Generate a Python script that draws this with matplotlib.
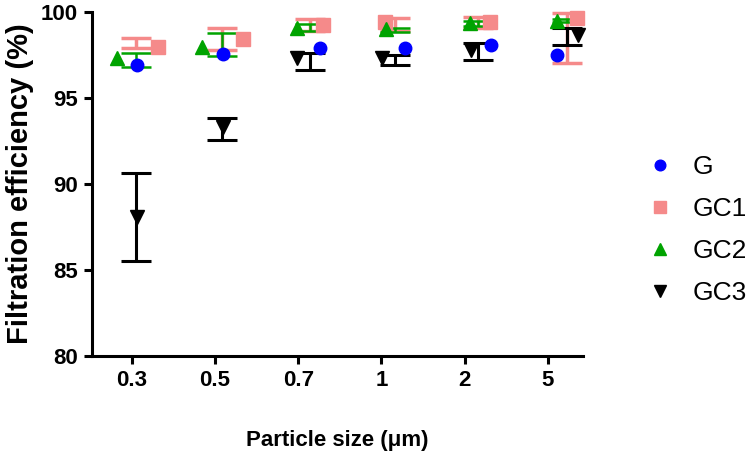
import matplotlib
matplotlib.use('Agg')
import matplotlib.pyplot as plt
import numpy as np

plt.rcParams['font.family'] = ['Liberation Sans', 'DejaVu Sans']

sizes = ['0.3', '0.5', '0.7', '1', '2', '5']

# marker values (%)
g_val = [96.95, 97.55, 97.9, 97.9, 98.1, 97.5]
gc1_val = [98.0, 98.45, 99.25, 99.4, 99.4, 99.65]
gc2_val = [97.35, 97.95, 99.05, 99.0, 99.35, 99.5]
gc3_val = [88.1, 93.3, 97.35, 97.35, 97.8, 98.65]

# error bar ranges (low, high)
gc1_lo = [97.9, 97.8, 98.9, 98.9, 99.1, 97.05]
gc1_hi = [98.5, 99.05, 99.6, 99.65, 99.7, 99.95]
gc2_lo = [96.8, 97.45, 98.9, 98.85, 99.2, 99.4]
gc2_hi = [97.6, 98.8, 99.3, 99.1, 99.5, 99.6]
gc3_lo = [85.5, 92.55, 96.65, 96.9, 97.2, 98.1]
gc3_hi = [90.65, 93.85, 97.6, 97.5, 98.2, 99.1]

# horizontal placement within each group (fraction of tick spacing)
x = np.arange(len(sizes))
off_g = np.array([0.06, 0.10, 0.26, 0.28, 0.32, 0.11])
off_gc1 = np.array([0.31, 0.34, 0.30, 0.04, 0.30, 0.35])
off_gc2 = np.array([-0.18, -0.16, -0.01, 0.05, 0.06, 0.11])
off_gc3 = np.array([0.06, 0.10, -0.01, 0.01, 0.08, 0.36])
off_bar = np.array([0.05, 0.08, 0.14, 0.16, 0.16, 0.23])

c_g = '#0000ff'
c_gc1 = '#f58a8a'
c_gc2 = '#00a300'
c_gc3 = '#000000'

fig = plt.figure(figsize=(7.53, 4.66), dpi=100)
ax = fig.add_axes([0.122, 0.236, 0.652, 0.738])

def bars(lo, hi, color, lw, z):
    lo = np.array(lo)
    hi = np.array(hi)
    mid = (lo + hi) / 2
    ax.errorbar(x + off_bar, mid, yerr=[mid - lo, hi - mid], fmt='none',
                ecolor=color, elinewidth=lw, capsize=11, capthick=lw,
                zorder=z, clip_on=False)

bars(gc1_lo, gc1_hi, c_gc1, 2.5, 2)
bars(gc2_lo, gc2_hi, c_gc2, 1.8, 3)
bars(gc3_lo, gc3_hi, c_gc3, 2.2, 4)

ax.plot(x + off_g, g_val, 'o', color=c_g, ms=9, ls='none', label='G', zorder=6, clip_on=False)
ax.plot(x + off_gc1, gc1_val, 's', color=c_gc1, ms=10, ls='none', label='GC1', zorder=5, clip_on=False)
ax.plot(x + off_gc2, gc2_val, '^', color=c_gc2, ms=10, ls='none', label='GC2', zorder=6, clip_on=False)
ax.plot(x + off_gc3, gc3_val, 'v', color=c_gc3, ms=10, ls='none', label='GC3', zorder=7, clip_on=False)

ax.set_xlim(-0.48, 5.42)
ax.set_ylim(80, 100)
ax.set_yticks([80, 85, 90, 95, 100])
ax.set_xticks(x)
ax.set_xticklabels(sizes)

for s in ['top', 'right']:
    ax.spines[s].set_visible(False)
for s in ['left', 'bottom']:
    ax.spines[s].set_linewidth(2.2)
ax.tick_params(width=2.2, length=6, labelsize=16, pad=4)
for lab in ax.get_xticklabels() + ax.get_yticklabels():
    lab.set_fontweight('bold')

ax.set_ylabel('Filtration efficiency (%)', fontsize=21, fontweight='bold', labelpad=5)
ax.set_xlabel('Particle size (\u03bcm)', fontsize=16, fontweight='bold', labelpad=28)

ax.legend(loc='center left', bbox_to_anchor=(0.862, 0.506), bbox_transform=fig.transFigure,
          frameon=False, fontsize=19, handletextpad=0.85, labelspacing=0.68,
          handlelength=0.8, markerscale=0.85, borderaxespad=0, borderpad=0)

fig.savefig('out.png', dpi=100)
